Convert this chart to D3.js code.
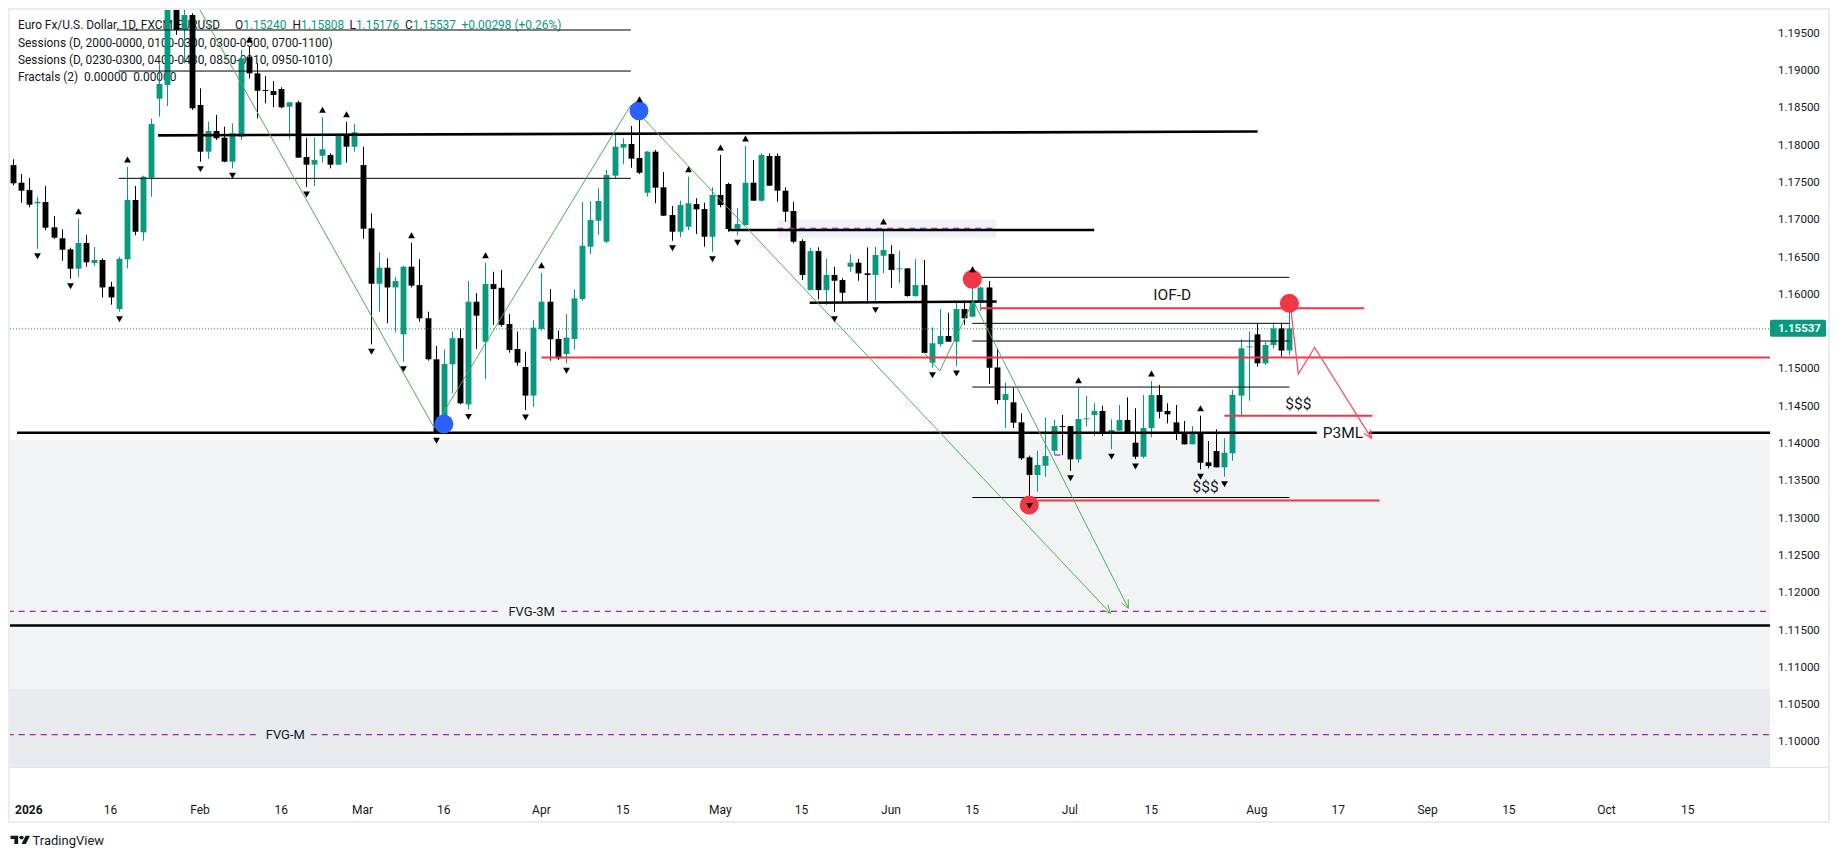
<!DOCTYPE html>
<html>
<head>
<meta charset="utf-8">
<script src="https://cdn.jsdelivr.net/npm/d3@7"></script>
<style>
  html, body { margin: 0; padding: 0; background: #fff; }
  svg { display: block; font-family: Roboto, "Noto Sans", sans-serif; }
  text { white-space: pre; }
</style>
</head>
<body>
<div id="chart"></div>
<script>
const width = 1840;
const height = 858;

// ---- candles: first bar is 2025-12-31, one bar per weekday ----
const firstDay = "2025-12-31";
const opens = [1.17726,1.17489,1.17392,1.17213,1.17230,1.16891,1.16744,1.16596,1.16336,1.16681,1.16413,1.16453,1.16095,1.15796,1.16462,1.17257,1.16824,1.17556,1.18615,1.18799,1.20099,1.19536,1.19737,1.18531,1.17905,1.18182,1.18093,1.17771,1.18106,1.19170,1.18955,1.18732,1.18718,1.18745,1.18508,1.18567,1.17834,1.17731,1.17851,1.17861,1.17731,1.18119,1.17972,1.17726,1.16877,1.16135,1.16350,1.16085,1.15457,1.16363,1.16117,1.15672,1.15122,1.14272,1.15055,1.15405,1.14518,1.15894,1.15358,1.16131,1.16081,1.15595,1.15260,1.15019,1.14635,1.15528,1.15894,1.15394,1.15193,1.15394,1.15930,1.16631,1.16979,1.16698,1.17583,1.17959,1.18008,1.17821,1.17355,1.17905,1.17428,1.17056,1.16832,1.16899,1.17203,1.17136,1.16765,1.17324,1.17472,1.16872,1.16921,1.17489,1.17248,1.17848,1.17848,1.17382,1.17110,1.16707,1.16050,1.16573,1.16050,1.16252,1.16184,1.16363,1.16417,1.16274,1.16252,1.16510,1.16533,1.16339,1.16341,1.15970,1.16117,1.15076,1.15327,1.15434,1.15358,1.15796,1.15693,1.15903,1.16085,1.15014,1.14576,1.14545,1.14277,1.13808,1.13571,1.13695,1.13896,1.14227,1.14227,1.13781,1.14328,1.14375,1.14429,1.14130,1.14165,1.14308,1.14004,1.13816,1.14201,1.14643,1.14429,1.14277,1.14138,1.13982,1.14138,1.13741,1.13892,1.13674,1.13862,1.14635,1.15287,1.15457,1.15068,1.15313,1.15537,1.15240];
const highs = [1.17803,1.17606,1.17552,1.17302,1.17445,1.17043,1.16864,1.16618,1.17006,1.16788,1.16627,1.16476,1.16162,1.16497,1.17700,1.17445,1.17583,1.18347,1.19076,1.20273,1.20273,1.19900,1.19760,1.18754,1.18307,1.18397,1.18240,1.18284,1.19268,1.19308,1.19089,1.18919,1.18852,1.18768,1.18567,1.18589,1.18093,1.18093,1.18366,1.17883,1.18152,1.18307,1.18276,1.17972,1.17079,1.16556,1.16476,1.16229,1.16377,1.16685,1.16466,1.15760,1.15300,1.15256,1.15494,1.15539,1.16171,1.16010,1.16417,1.16296,1.16319,1.15729,1.15494,1.15224,1.15649,1.16282,1.16064,1.15506,1.15729,1.16060,1.17230,1.17244,1.17414,1.17660,1.18129,1.18085,1.18249,1.18508,1.17914,1.17928,1.17632,1.17177,1.17248,1.17570,1.17280,1.17221,1.17428,1.17861,1.17489,1.17146,1.17981,1.17794,1.17883,1.17883,1.17883,1.17428,1.17234,1.16730,1.16618,1.16623,1.16466,1.16363,1.16207,1.16530,1.16466,1.16623,1.16631,1.16868,1.16654,1.16577,1.16341,1.16466,1.16453,1.15550,1.15796,1.15746,1.15894,1.15907,1.16229,1.16095,1.16171,1.15265,1.14813,1.14741,1.14398,1.13830,1.13896,1.14343,1.14308,1.14375,1.14227,1.14741,1.14630,1.14532,1.14500,1.14318,1.14509,1.14612,1.14465,1.14643,1.14831,1.14777,1.14532,1.14509,1.14295,1.14227,1.14366,1.14026,1.14183,1.14062,1.14711,1.15390,1.15494,1.15605,1.15358,1.15613,1.15613,1.15808];
const lows = [1.17454,1.17221,1.17159,1.16604,1.16855,1.16738,1.16443,1.16202,1.16229,1.16363,1.16377,1.15951,1.15854,1.15760,1.16341,1.16784,1.16711,1.17302,1.18374,1.18518,1.19469,1.19089,1.18464,1.17771,1.17807,1.18062,1.17763,1.17682,1.18062,1.18888,1.18353,1.18554,1.18500,1.18487,1.18070,1.17825,1.17432,1.17445,1.17758,1.17682,1.17731,1.17758,1.17905,1.16738,1.15323,1.15760,1.15605,1.15484,1.15090,1.16085,1.15626,1.15103,1.14130,1.14218,1.14668,1.14518,1.14451,1.15260,1.14858,1.15582,1.15559,1.15211,1.15036,1.14442,1.14486,1.15506,1.15103,1.15113,1.15068,1.15256,1.15907,1.16533,1.16788,1.16681,1.17539,1.17736,1.17690,1.17606,1.17302,1.17213,1.17043,1.16711,1.16759,1.16855,1.16802,1.16631,1.16564,1.17159,1.16832,1.16784,1.16921,1.17248,1.17234,1.17449,1.17234,1.16966,1.16676,1.16184,1.16050,1.15926,1.15850,1.15760,1.15894,1.16296,1.16175,1.15872,1.15881,1.16274,1.16081,1.16140,1.15961,1.15961,1.15207,1.15009,1.15291,1.15358,1.15032,1.15582,1.15693,1.15769,1.14791,1.14522,1.14201,1.14201,1.13772,1.13258,1.13347,1.13548,1.13839,1.13839,1.13628,1.13736,1.14218,1.14093,1.14093,1.13918,1.14165,1.14138,1.13785,1.13795,1.14076,1.14331,1.14263,1.14040,1.13982,1.13982,1.13647,1.13660,1.13674,1.13548,1.13762,1.14362,1.14567,1.15023,1.15045,1.15270,1.15158,1.15176];
const closes = [1.17481,1.17382,1.17194,1.17234,1.16886,1.16752,1.16591,1.16336,1.16681,1.16422,1.16453,1.16085,1.15951,1.16470,1.17257,1.16832,1.17570,1.18276,1.18812,1.20139,1.19536,1.19737,1.18487,1.17905,1.18182,1.18085,1.17771,1.18152,1.19157,1.18955,1.18722,1.18722,1.18665,1.18500,1.18567,1.17825,1.17731,1.17794,1.17937,1.17731,1.18129,1.17972,1.18165,1.16872,1.16135,1.16350,1.16085,1.16171,1.16363,1.16109,1.15672,1.15122,1.14138,1.15059,1.15405,1.14532,1.15894,1.15707,1.16131,1.16064,1.15582,1.15247,1.15077,1.14635,1.15546,1.15894,1.15390,1.15135,1.15413,1.15939,1.16644,1.16989,1.17244,1.17593,1.17972,1.18008,1.17811,1.17623,1.17905,1.17422,1.17047,1.16832,1.17190,1.17213,1.17132,1.16765,1.17324,1.17190,1.16868,1.16935,1.17489,1.17248,1.17861,1.17449,1.17382,1.17100,1.16698,1.16252,1.16573,1.16050,1.16252,1.16175,1.16014,1.16417,1.16274,1.16252,1.16520,1.16587,1.16319,1.16341,1.15970,1.16117,1.15207,1.15337,1.15434,1.15358,1.15796,1.15672,1.15907,1.16085,1.15009,1.14576,1.14656,1.14272,1.13795,1.13571,1.13705,1.13825,1.14227,1.14218,1.13781,1.14321,1.14331,1.14429,1.14130,1.14174,1.14308,1.14138,1.13816,1.14201,1.14643,1.14419,1.14384,1.14138,1.13982,1.14130,1.13736,1.13691,1.13674,1.13870,1.14644,1.15270,1.15296,1.15068,1.15313,1.15537,1.15239,1.15537];

// fractal bars (bar 0 = 2026-01-01)
const fractalUp = [7,13,28,37,40,48,57,64,76,82,86,89,106,117,130,139,145];
const fractalDown = [2,6,12,22,26,35,43,47,51,55,62,67,80,85,88,100,105,112,115,124,129,134,137,145,148];

// axis ticks
const priceTicks = [1.195,1.190,1.185,1.180,1.175,1.170,1.165,1.160,1.155,1.150,1.145,1.140,1.135,1.130,1.125,1.120,1.115,1.110,1.105,1.100];
const timeTickDays = ["2026-01-01","2026-01-16","2026-02-02","2026-02-16","2026-03-02","2026-03-16","2026-04-01","2026-04-15","2026-05-01","2026-05-15","2026-06-01","2026-06-15","2026-07-01","2026-07-15","2026-08-03","2026-08-17","2026-09-01","2026-09-15","2026-10-01","2026-10-15"];
const timeTickLabels = ["2026","16","Feb","16","Mar","16","Apr","15","May","15","Jun","15","Jul","15","Aug","17","Sep","15","Oct","15"];

// drawings: [fromBar, toBar, price] (null toBar = to the price scale)
const thinLevels = [[12,75,1.19536],[12,75,1.18986],[12,75,1.17548],[117,156,1.16221],[117,156,1.15604],[117,156,1.15367],[117,156,1.14750],[117,156,1.13269]];
const thickLevels = [[16.85,152.1,1.18124,1.18175],[87,132,1.16855,1.16855],[97,120,1.15880,1.15896],[-0.5,null,1.14138,1.14138],[-3,null,1.11553,1.11553]];
const redLevels = [[118,165.2,1.15805],[64,null,1.15146],[148,166.2,1.14366],[125,167.1,1.13229]];
const dashedLevels = [[93,120,1.16878],[-3,null,1.11744],[-3,null,1.10091],[127.1,128,1.13839]];
const greyZones = [[93.1,120,1.16998,1.16752]];
const bands = [[1.14040,1.10702],[1.10702,1.08500]];
const lineLabels = [["FVG-3M",62.8,1.11744],["FVG-M",32.5,1.10091],["P3ML",162.6,1.14138]];
const freeLabels = [["IOF-D",141.6,1.15984],["$$$",157.1,1.14532],["$$$",145.7,1.13414]];
const bluePivots = [[52,1.14254],[76,1.18454]];
const redPivots = [[117,1.16194],[124,1.13169],[156,1.15872]];
const greenZig = [[21,1.20000],[50.8,1.14205],[75,1.18530]];
const greenArrowA = [[75,1.18530],[134,1.11717]];
const greenArrowB = [[111,1.15220],[113,1.14965],[117.1,1.15907],[136.2,1.11784]];
const redArrow = [[156.1,1.15872],[157.1,1.14925],[159.1,1.15282],[166.1,1.14063]];

const legendLines = [
  "Sessions (D, 2000-0000, 0100-0300, 0300-0500, 0700-1100)",
  "Sessions (D, 0230-0300, 0400-0430, 0850-0910, 0950-1010)",
  "Fractals (2)  0.00000  0.00000"
];

// ---- layout ----
const pane = { l: 10, r: 1770, t: 10, b: 767 };
const teal = "#089981", red = "#f23645", blue = "#2962ff", ink = "#131722";

const parseDay = d3.utcParse("%Y-%m-%d");
const fmtDay = d3.utcFormat("%Y-%m-%d");
const days = d3.utcDays(parseDay(firstDay), parseDay("2026-12-31"))
  .filter(d => d.getUTCDay() % 6 !== 0)
  .map(fmtDay);
const barOf = day => days.indexOf(day) - 1;

const x = d3.scaleLinear().domain([-1, 205]).range([12.97, 1687.75]);
const y = d3.scaleLinear().domain([1.10, 1.195]).range([741.4, 32.7]);
const xEnd = b => (b === null ? pane.r : x(b));

const svg = d3.select("#chart").append("svg")
  .attr("width", width)
  .attr("height", height);

svg.append("defs").append("clipPath").attr("id", "paneClip")
  .append("rect")
  .attr("x", pane.l).attr("y", pane.t)
  .attr("width", pane.r - pane.l).attr("height", pane.b - pane.t);

const plot = svg.append("g").attr("clip-path", "url(#paneClip)");

// background bands
plot.selectAll(".band").data(bands).join("rect")
  .attr("x", pane.l).attr("width", pane.r - pane.l)
  .attr("y", d => y(d[0])).attr("height", d => y(d[1]) - y(d[0]))
  .attr("fill", (d, i) => i === 0 ? "#f2f3f5" : "#e9eaee");

plot.selectAll(".zone").data(greyZones).join("rect")
  .attr("x", d => x(d[0])).attr("width", d => x(d[1]) - x(d[0]))
  .attr("y", d => y(d[2])).attr("height", d => y(d[3]) - y(d[2]))
  .attr("fill", "#f1f2f5");

// legend (sits under the marks, like the reference)
const legend = plot.append("g").attr("font-size", 11.9).attr("fill", ink);
const l1 = legend.append("text").attr("x", 18).attr("y", 29);
l1.append("tspan").text("Euro Fx/U.S. Dollar, 1D, FXCM EURUSD");
[["O", opens], ["H", highs], ["L", lows], ["C", closes]].forEach(([k, arr], i) => {
  l1.append("tspan").attr("x", [235, 292.5, 349.5, 405][i]).text(k);
  l1.append("tspan").attr("fill", teal).text(d3.format(".5f")(arr[arr.length - 1]));
});
const chg = closes[closes.length - 1] - closes[closes.length - 2];
l1.append("tspan").attr("x", 461.5).attr("fill", teal)
  .text((chg >= 0 ? "+" : "") + d3.format(".5f")(chg) + " (" + (chg >= 0 ? "+" : "") +
        d3.format(".2f")(chg / closes[closes.length - 2] * 100) + "%)");
legend.selectAll(".lg").data(legendLines).join("text")
  .attr("x", 18).attr("y", (d, i) => 46.5 + i * 17)
  .text(d => d);

// candles
const bars = opens.map((o, k) => ({ bar: k - 1, o, h: highs[k], l: lows[k], c: closes[k] }));
const bw = (x(1) - x(0)) * 0.72;
const cx = d => Math.round(x(d.bar)) + 0.5;
const col = d => (d.c >= d.o ? teal : "#000");

plot.append("g").selectAll("line").data(bars).join("line")
  .attr("x1", cx).attr("x2", cx)
  .attr("y1", d => y(d.h)).attr("y2", d => y(d.l))
  .attr("stroke", col).attr("stroke-width", 1);

plot.append("g").selectAll("rect").data(bars).join("rect")
  .attr("x", d => cx(d) - bw / 2)
  .attr("y", d => y(Math.max(d.o, d.c)))
  .attr("width", bw)
  .attr("height", d => Math.max(1, Math.abs(y(d.o) - y(d.c))))
  .attr("fill", col);

// drawing layers
const linesG = plot.append("g");
const pathsG = plot.append("g");
const dotsG = plot.append("g");
const labelsG = plot.append("g").attr("fill", ink);

// labels sitting on a line cut a gap in it
const gaps = lineLabels.map(([txt, bar, p]) => {
  const t = labelsG.append("text")
    .attr("x", x(bar)).attr("y", y(p)).attr("dy", "0.35em")
    .attr("text-anchor", "middle")
    .attr("font-size", txt === "P3ML" ? 15.5 : 13)
    .text(txt);
  const w = t.node().getComputedTextLength();
  return { p, x0: x(bar) - w / 2 - 6, x1: x(bar) + w / 2 + 6 };
});

function pieces(xa, xb, p) {
  let segs = [[xa, xb]];
  gaps.filter(g => Math.abs(g.p - p) < 1e-7).forEach(g => {
    segs = segs.flatMap(([a, b]) =>
      g.x1 <= a || g.x0 >= b ? [[a, b]] : [[a, g.x0], [g.x1, b]].filter(s => s[1] > s[0]));
  });
  return segs;
}

function level(list, stroke, sw, dash) {
  list.forEach(([b0, b1, p0, p1]) => {
    const pEnd = p1 === undefined ? p0 : p1;
    if (p0 === pEnd) {
      pieces(x(b0), xEnd(b1), p0).forEach(([a, b]) => {
        linesG.append("line")
          .attr("x1", a).attr("x2", b).attr("y1", y(p0)).attr("y2", y(p0))
          .attr("stroke", stroke).attr("stroke-width", sw)
          .attr("stroke-dasharray", dash || null);
      });
    } else {
      linesG.append("line")
        .attr("x1", x(b0)).attr("x2", xEnd(b1)).attr("y1", y(p0)).attr("y2", y(pEnd))
        .attr("stroke", stroke).attr("stroke-width", sw);
    }
  });
}

level(thinLevels, "#000", 1);
level(thickLevels, "#000", 2.6);
level(redLevels, red, 2);
level(dashedLevels, "#9c27b0", 1.2, "6,5");

// last price dotted line
linesG.append("line")
  .attr("x1", pane.l).attr("x2", pane.r)
  .attr("y1", y(closes[closes.length - 1]) + 0.5).attr("y2", y(closes[closes.length - 1]) + 0.5)
  .attr("stroke", teal).attr("stroke-width", 1).attr("stroke-dasharray", "1,2");

// zigzags and arrows
const pline = d3.line().x(d => x(d[0])).y(d => y(d[1]));
function arrowHead(pts, stroke, sw) {
  const [a, b] = pts.slice(-2).map(d => [x(d[0]), y(d[1])]);
  const ang = Math.atan2(b[1] - a[1], b[0] - a[0]);
  const L = 9, s = 0.45;
  const h1 = [b[0] - L * Math.cos(ang - s), b[1] - L * Math.sin(ang - s)];
  const h2 = [b[0] - L * Math.cos(ang + s), b[1] - L * Math.sin(ang + s)];
  pathsG.append("path").attr("d", d3.line()([h1, b, h2]))
    .attr("fill", "none").attr("stroke", stroke).attr("stroke-width", sw);
}
[greenZig, greenArrowA, greenArrowB].forEach(pts => {
  pathsG.append("path").attr("d", pline(pts))
    .attr("fill", "none").attr("stroke", "#4caf50").attr("stroke-width", 1);
});
arrowHead(greenArrowA, "#4caf50", 1);
arrowHead(greenArrowB, "#4caf50", 1);
pathsG.append("path").attr("d", pline(redArrow))
  .attr("fill", "none").attr("stroke", "#f7525f").attr("stroke-width", 1.3);
arrowHead(redArrow, "#f7525f", 1.3);

// pivots
dotsG.selectAll(".bp").data(bluePivots).join("circle")
  .attr("cx", d => x(d[0])).attr("cy", d => y(d[1])).attr("r", 9.5).attr("fill", blue);
dotsG.selectAll(".rp").data(redPivots).join("circle")
  .attr("cx", d => x(d[0])).attr("cy", d => y(d[1])).attr("r", 9.5).attr("fill", red);

// fractal markers
const tri = d3.symbol(d3.symbolTriangle, 20);
dotsG.selectAll(".fu").data(fractalUp).join("path")
  .attr("d", tri)
  .attr("transform", b => `translate(${Math.round(x(b)) + 0.5},${y(highs[b + 1]) - 6.5})`)
  .attr("fill", "#000");
dotsG.selectAll(".fd").data(fractalDown).join("path")
  .attr("d", tri)
  .attr("transform", b => `translate(${Math.round(x(b)) + 0.5},${y(lows[b + 1]) + 6.5}) rotate(180)`)
  .attr("fill", "#000");

// free text notes
labelsG.selectAll(".fl").data(freeLabels).join("text")
  .attr("x", d => x(d[1])).attr("y", d => y(d[2])).attr("dy", "0.35em")
  .attr("text-anchor", "middle").attr("font-size", 15.5)
  .text(d => d[0]);

// ---- frame ----
svg.append("rect")
  .attr("x", 9).attr("y", 9).attr("width", 1820).attr("height", 813)
  .attr("fill", "none").attr("stroke", "#e9ecf1").attr("stroke-width", 2);
svg.append("line")
  .attr("x1", pane.l).attr("x2", 1828).attr("y1", pane.b + 0.5).attr("y2", pane.b + 0.5)
  .attr("stroke", "#e0e3eb");

// ---- price scale ----
const last = closes[closes.length - 1];
svg.append("g").attr("font-size", 11.5).attr("fill", ink)
  .selectAll("text")
  .data(priceTicks.filter(p => Math.abs(y(p) - y(last)) > 12))
  .join("text")
  .attr("x", 1778).attr("y", d => y(d)).attr("dy", "0.35em")
  .text(d => d3.format(".5f")(d));

svg.append("rect")
  .attr("x", pane.r).attr("y", y(last) - 8.5)
  .attr("width", 56).attr("height", 17).attr("rx", 1.5)
  .attr("fill", teal);
svg.append("text")
  .attr("x", 1778).attr("y", y(last)).attr("dy", "0.35em")
  .attr("font-size", 11.5).attr("font-weight", "bold").attr("fill", "#fff")
  .text(d3.format(".5f")(last));

// ---- time scale ----
svg.append("g").attr("font-size", 12).attr("fill", ink)
  .selectAll("text")
  .data(timeTickDays.map((d, i) => ({ bar: barOf(d), label: timeTickLabels[i] })))
  .join("text")
  .attr("x", d => Math.max(15, x(d.bar) - (/^\d{4}$/.test(d.label) ? 13.5 : 0)))
  .attr("text-anchor", d => /^\d{4}$/.test(d.label) ? "start" : "middle")
  .attr("y", 814)
  .attr("font-weight", d => /^\d{4}$/.test(d.label) ? "bold" : null)
  .text(d => d.label);

// ---- TradingView mark ----
const logo = svg.append("g").attr("transform", "translate(10.5,834) scale(0.55,0.45)").attr("fill", ink);
logo.append("path").attr("d", "M14 22H7V11H0V4h14v18z");
logo.append("circle").attr("cx", 20).attr("cy", 8).attr("r", 4);
logo.append("path").attr("d", "M28 22h-8l7.5-18h8L28 22z");
svg.append("text")
  .attr("x", 32.5).attr("y", 844.5)
  .attr("font-size", 13).attr("fill", ink)
  .text("TradingView");
</script>
</body>
</html>
